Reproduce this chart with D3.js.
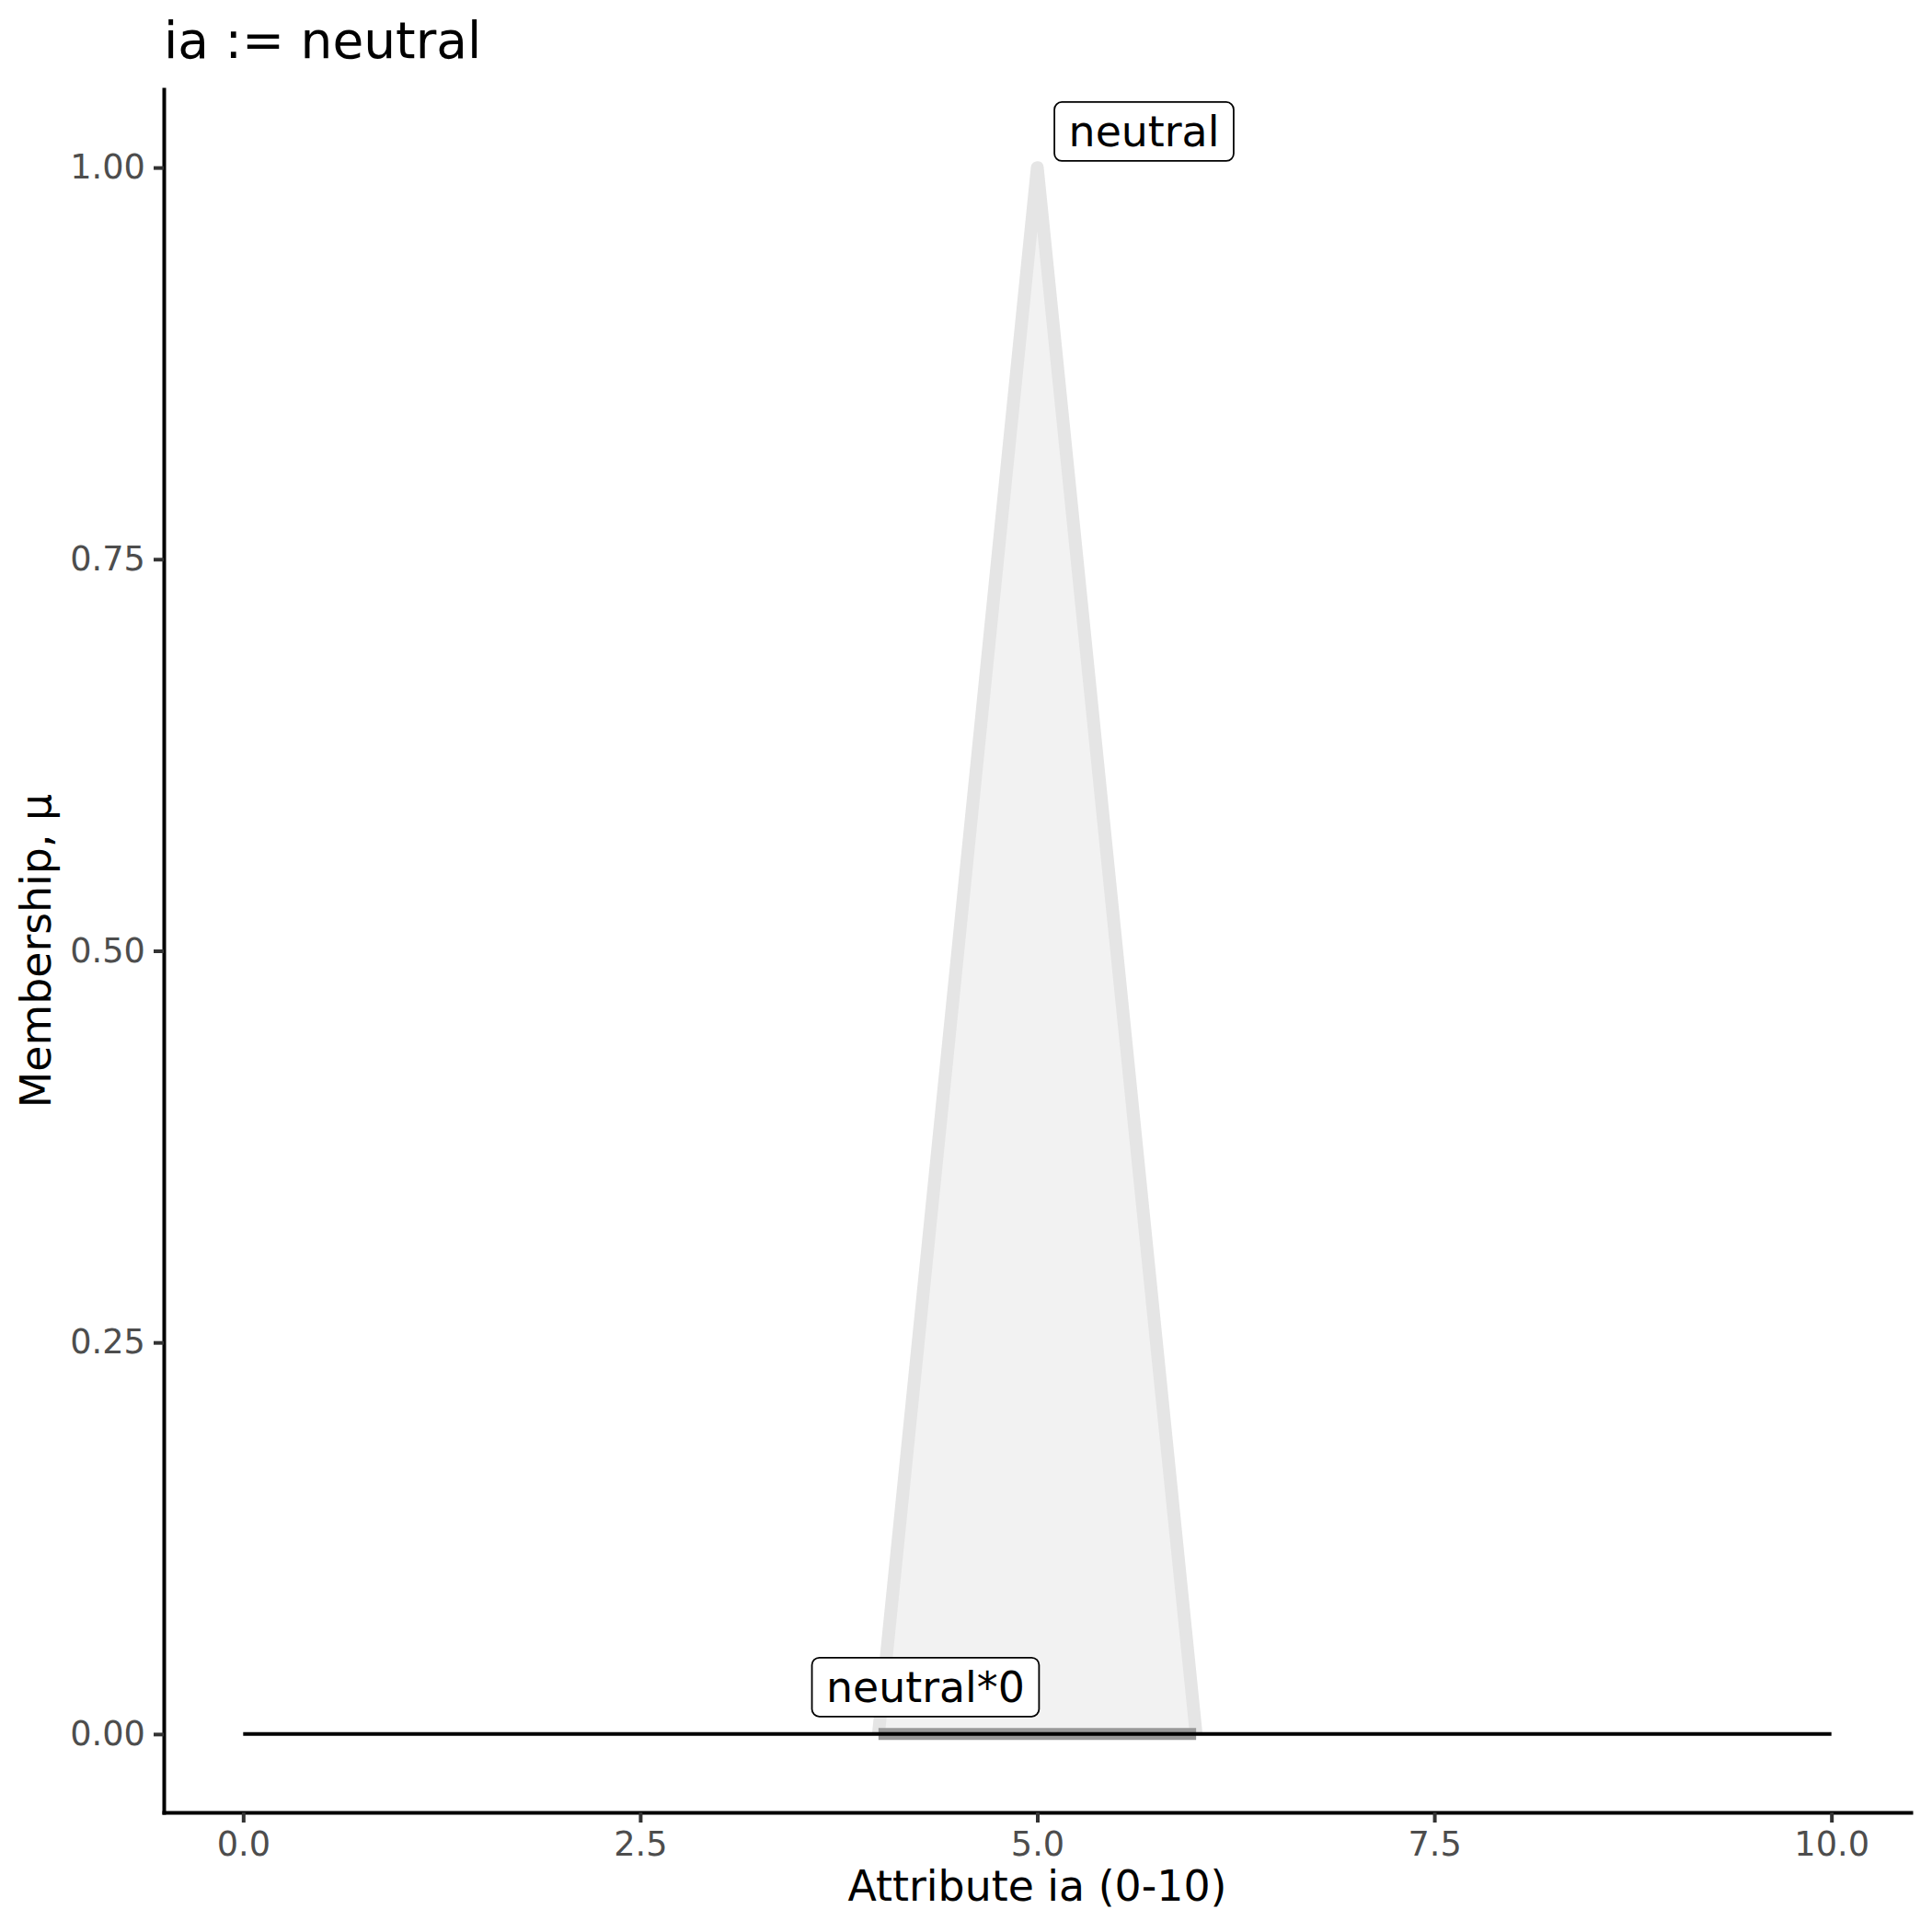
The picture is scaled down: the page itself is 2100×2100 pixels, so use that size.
<!DOCTYPE html>
<html>
<head>
<meta charset="utf-8">
<script src="https://cdn.jsdelivr.net/npm/d3@7"></script>
<style>
  html, body { margin: 0; padding: 0; background: #ffffff; }
  svg { display: block; }
  text { font-family: "DejaVu Sans", sans-serif; }
</style>
</head>
<body>
<script>
// ---- data ----
const titleText = "ia := neutral";
const xTitle = "Attribute ia (0-10)";
const yTitle = "Membership, \u03bc";
const xTicks = [0, 2.5, 5, 7.5, 10];
const xTickLabels = ["0.0", "2.5", "5.0", "7.5", "10.0"];
const yTicks = [0, 0.25, 0.5, 0.75, 1];
const yTickLabels = ["0.00", "0.25", "0.50", "0.75", "1.00"];
// membership function "neutral"
const neutralX = [4, 5, 6];
const neutralMu = [0, 1, 0];
// scaled membership "neutral*0"
const scaledX = [4, 6];
const scaledMu = [0, 0];
// output line
const outputX = [0, 10];
const outputMu = [0, 0];
// labels
const labelTexts = ["neutral", "neutral*0"];
const labelX = [5.672, 4.296];
const labelMu = [1.023, 0.030];

// ---- layout ----
const W = 2100, H = 2100;
const svg = d3.select("body").append("svg").attr("width", W).attr("height", H);

const x = d3.scaleLinear().domain([-0.5, 10.5]).range([178, 2077]);
const y = d3.scaleLinear().domain([-0.05, 1.05]).range([1970, 97]);

const plot = svg.append("g");

// triangle fill
const tri = neutralX.map((v, i) => [v, neutralMu[i]]);
plot.append("path")
  .datum(tri)
  .attr("d", d3.area().x(d => x(d[0])).y0(y(0)).y1(d => y(d[1])))
  .attr("fill", "#F2F2F2");
// triangle outline
plot.append("path")
  .datum(tri)
  .attr("d", d3.line().x(d => x(d[0])).y(d => y(d[1])))
  .attr("fill", "none")
  .attr("stroke", "#E5E5E5")
  .attr("stroke-width", 14)
  .attr("stroke-linejoin", "round")
  .attr("stroke-linecap", "butt");

// scaled membership (flat)
const scaled = scaledX.map((v, i) => [v, scaledMu[i]]);
plot.append("path")
  .datum(scaled)
  .attr("d", d3.line().x(d => x(d[0])).y(d => y(d[1])))
  .attr("fill", "none")
  .attr("stroke", "#999999")
  .attr("stroke-width", 13)
  .attr("stroke-linecap", "butt");

// output line
const out = outputX.map((v, i) => [v, outputMu[i]]);
plot.append("path")
  .datum(out)
  .attr("d", d3.line().x(d => x(d[0])).y(d => y(d[1])))
  .attr("fill", "none")
  .attr("stroke", "#000000")
  .attr("stroke-width", 4)
  .attr("stroke-linecap", "butt");

// labels
labelTexts.forEach((t, i) => {
  const g = plot.append("g").attr("transform", `translate(${x(labelX[i])},${y(labelMu[i])})`);
  const rect = g.append("rect");
  const txt = g.append("text")
    .attr("text-anchor", "middle")
    .attr("dy", 16.5)
    .attr("font-size", 45.8)
    .attr("fill", "#000")
    .text(t);
  const bb = txt.node().getBBox();
  const w = bb.width + 31, h = 64;
  rect.attr("x", -w / 2).attr("y", -h / 2).attr("width", w).attr("height", h)
    .attr("rx", 8).attr("ry", 8)
    .attr("fill", "#ffffff").attr("stroke", "#000").attr("stroke-width", 1.8);
});

// axes
const xAxis = d3.axisBottom(x).tickValues(xTicks).tickFormat((d, i) => xTickLabels[i])
  .tickSizeInner(11).tickSizeOuter(0).tickPadding(9.6);
const gx = svg.append("g").attr("transform", `translate(0,1970)`).call(xAxis);
gx.select(".domain").attr("stroke", "#000").attr("stroke-width", 4).attr("stroke-linecap", "square");
gx.selectAll(".tick line").attr("stroke", "#333333").attr("stroke-width", 4);
gx.selectAll(".tick text").attr("font-size", 36.7).attr("fill", "#4D4D4D")
  .attr("font-family", "DejaVu Sans, sans-serif");

const yAxis = d3.axisLeft(y).tickValues(yTicks).tickFormat((d, i) => yTickLabels[i])
  .tickSizeInner(11).tickSizeOuter(0).tickPadding(9.2);
const gy = svg.append("g").attr("transform", `translate(178,0)`).call(yAxis);
gy.select(".domain").attr("stroke", "#000").attr("stroke-width", 4).attr("stroke-linecap", "square");
gy.selectAll(".tick line").attr("stroke", "#333333").attr("stroke-width", 4);
gy.selectAll(".tick text").attr("font-size", 36.7).attr("fill", "#4D4D4D")
  .attr("font-family", "DejaVu Sans, sans-serif");

// titles
svg.append("text").attr("x", 178).attr("y", 63).attr("font-size", 55).attr("fill", "#000").text(titleText);
svg.append("text").attr("x", (178 + 2077) / 2).attr("y", 2066).attr("text-anchor", "middle")
  .attr("font-size", 45.8).attr("fill", "#000").text(xTitle);
svg.append("text").attr("transform", `translate(54.5,${(97 + 1970) / 2}) rotate(-90)`)
  .attr("text-anchor", "middle").attr("font-size", 45.8).attr("fill", "#000").text(yTitle);
</script>
</body>
</html>
